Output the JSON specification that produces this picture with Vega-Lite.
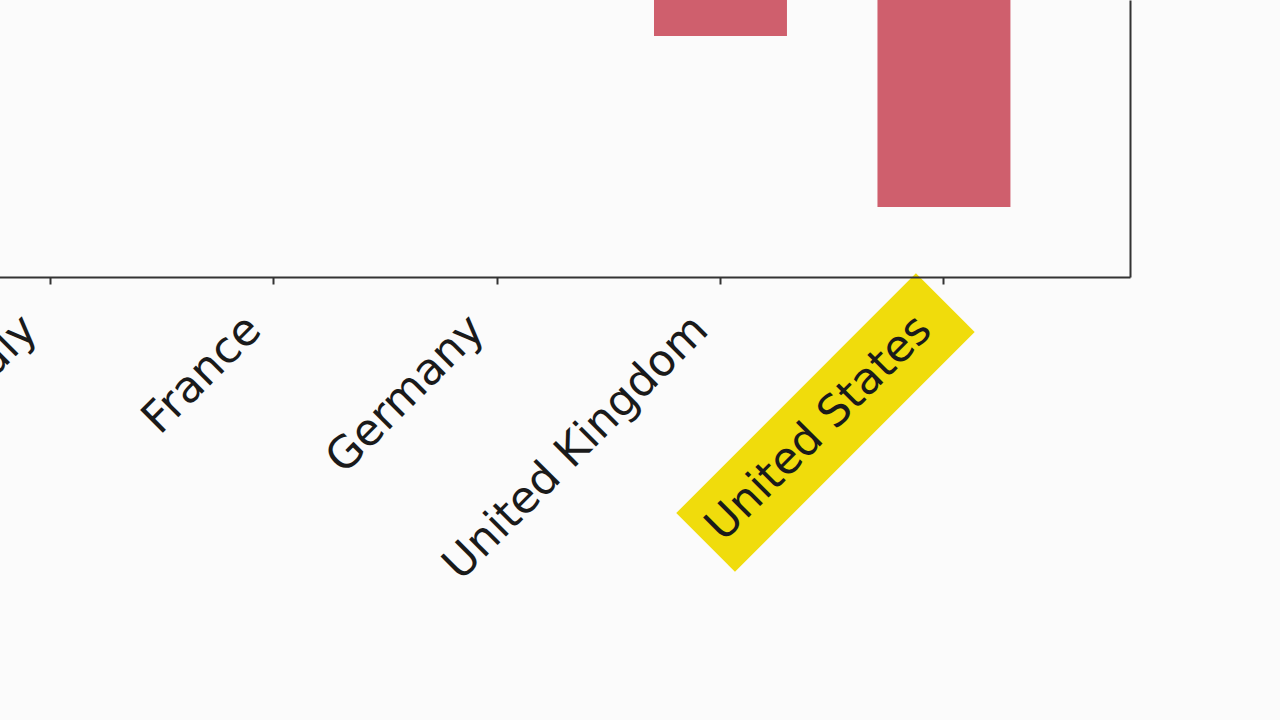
{
  "$schema": "https://vega.github.io/schema/vega-lite/v6.json",
  "width": 1130,
  "height": 277,
  "autosize": {"type": "none"},
  "padding": {"left": 0, "top": 0, "right": 150, "bottom": 443},
  "background": "#fbfbfb",
  "config": {
    "view": {"stroke": null},
    "font": "DejaVu Sans"
  },
  "datasets": {
    "gdp": [
      {"country": "Italy", "value": -1.8},
      {"country": "France", "value": -2.4},
      {"country": "Germany", "value": -2.9},
      {"country": "United Kingdom", "value": -3.59},
      {"country": "United States", "value": -5.3}
    ],
    "mark": [
      {"country": "United States"}
    ]
  },
  "encoding": {
    "x": {
      "field": "country",
      "type": "nominal",
      "sort": null,
      "scale": {"range": [-136, 1130], "paddingInner": 0.405, "paddingOuter": 0.535},
      "axis": {
        "title": null,
        "zindex": 1,
        "labelAngle": -45,
        "labelAlign": "right",
        "labelBaseline": "top",
        "labelFontSize": 44,
        "labelLimit": 0,
        "labelColor": "#1a1a1a",
        "labelPadding": 23,
        "labelOffset": -35,
        "domainColor": "#333333",
        "domainWidth": 2,
        "tickColor": "#333333",
        "tickWidth": 2,
        "tickSize": 7
      }
    }
  },
  "layer": [
    {
      "data": {"name": "gdp"},
      "mark": {"type": "bar", "color": "#cf5f6d", "clip": true},
      "encoding": {
        "y": {
          "field": "value",
          "type": "quantitative",
          "scale": {"domain": [-6, -3.23], "zero": false, "nice": false},
          "axis": {
            "orient": "right",
            "title": null,
            "labels": false,
            "ticks": false,
            "grid": false,
            "zindex": 1,
            "domainColor": "#333333",
            "domainWidth": 2
          }
        }
      }
    },
    {
      "data": {"name": "mark"},
      "mark": {
        "type": "point",
        "filled": true,
        "color": "#f0dc0c",
        "opacity": 1,
        "shape": "M-1,-0.245L1,-0.245L1,0.245L-1,0.245Z",
        "size": 114900,
        "angle": -45,
        "xOffset": -118.5,
        "yOffset": 145.5
      },
      "encoding": {
        "y": {"value": "height"}
      }
    }
  ]
}
